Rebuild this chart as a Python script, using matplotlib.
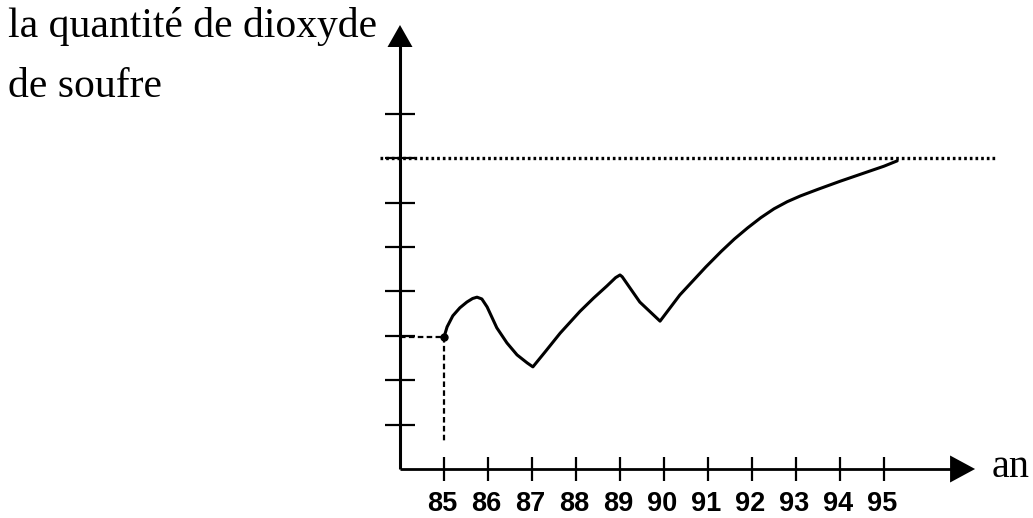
import numpy as np
import matplotlib
matplotlib.use("Agg")
import matplotlib.pyplot as plt

# years on the x axis, y units = tick steps on the vertical axis
years_ticks = [85, 86, 87, 88, 89, 90, 91, 92, 93, 94, 95]
tick_labels = [str(y) for y in years_ticks]
y_ticks = [1, 2, 3, 4, 5, 6, 7, 8]

# curve
curve_x = [85.0, 85.07, 85.2, 85.36, 85.52, 85.65, 85.75, 85.86, 85.98, 86.2,
           86.43, 86.66, 86.89, 87.02, 87.3, 87.64, 88.09, 88.4, 88.7, 88.9,
           89.0, 89.05, 89.45, 89.91, 90.36, 90.95, 91.3, 91.6, 91.9, 92.2,
           92.5, 92.8, 93.1, 93.5, 94.0, 94.5, 95.0, 95.3]
curve_y = [2.97, 3.2, 3.45, 3.63, 3.76, 3.84, 3.87, 3.83, 3.65, 3.18,
           2.84, 2.57, 2.39, 2.30, 2.64, 3.06, 3.55, 3.85, 4.12, 4.31,
           4.37, 4.33, 3.76, 3.33, 3.92, 4.55, 4.90, 5.18, 5.43, 5.66,
           5.86, 6.02, 6.15, 6.30, 6.48, 6.65, 6.82, 6.94]
limit_level = 7.0
start_year, start_value = 85.0, 2.97

W, H = 1033, 518
x0_px, y0_px = 400, 469          # origin of the drawn axes in pixels
px_per_year, px_per_unit = 44.0, 44.4
origin_year = 84

fig = plt.figure(figsize=(W / 100, H / 100), dpi=100)
ax = fig.add_axes([0, 0, 1, 1])
ax.set_xlim(origin_year - x0_px / px_per_year, origin_year + (W - x0_px) / px_per_year)
ax.set_ylim(-(H - y0_px) / px_per_unit, y0_px / px_per_unit)
ax.axis("off")

k = "black"
# axes lines
y_top = 10.0
x_end = 97.07
ax.plot([origin_year, origin_year], [0, y_top - 0.45], color=k, lw=2.2, solid_capstyle="butt")
ax.plot([origin_year, x_end - 0.5], [0, 0], color=k, lw=2.0, solid_capstyle="butt")
# arrow heads
hw_x = 12.5 / px_per_year
ax.fill([origin_year - hw_x, origin_year + hw_x, origin_year],
        [y_top - 22 / px_per_unit, y_top - 22 / px_per_unit, y_top], color=k, lw=0)
hh_y = 13.5 / px_per_unit
ax.fill([x_end - 25 / px_per_year, x_end - 25 / px_per_year, x_end],
        [-hh_y, hh_y, 0], color=k, lw=0)

# ticks
ax.plot(years_ticks, [0] * len(years_ticks), linestyle="none", marker="|",
        markersize=17, markeredgewidth=1.6, color=k)
ax.plot([origin_year] * len(y_ticks), y_ticks, linestyle="none", marker="_",
        markersize=22, markeredgewidth=1.6, color=k)

for yr, lab in zip(years_ticks, tick_labels):
    ax.text(yr - 2 / px_per_year, -42 / px_per_unit, lab, ha="center", va="baseline",
            fontsize=19.5, fontweight="bold",
            family=["Liberation Sans", "DejaVu Sans"])

# dotted limit line
ax.plot([origin_year - 20 / px_per_year, origin_year + 597 / px_per_year],
        [limit_level, limit_level], color=k, lw=2.4, linestyle=(0, (0.8, 0.9)))

# dashed guides to the starting point
ax.plot([origin_year, start_year], [start_value, start_value], color=k, lw=1.6,
        linestyle=(0, (2.5, 1.5)))
ax.plot([start_year, start_year], [start_value, 0.6], color=k, lw=1.6,
        linestyle=(0, (2.5, 1.5)))

ax.plot(curve_x, curve_y, color=k, lw=2.2, solid_joinstyle="round",
        solid_capstyle="round")
ax.plot([start_year], [start_value], marker="o", markersize=5, color=k)

serif = ["Liberation Serif", "DejaVu Serif"]
fig.text(8 / W, 1 - 37 / H, "la quantité de dioxyde", fontsize=30, family=serif,
         va="baseline", ha="left")
fig.text(8 / W, 1 - 97 / H, "de soufre", fontsize=30, family=serif,
         va="baseline", ha="left")
fig.text(992 / W, 1 - 477 / H, "an", fontsize=29, family=serif,
         va="baseline", ha="left")

fig.savefig("out.png", dpi=100)
